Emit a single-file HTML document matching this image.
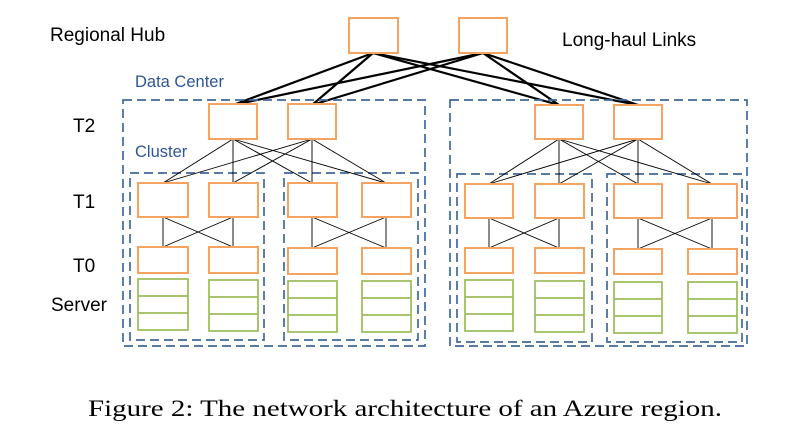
<!DOCTYPE html>
<html><head><meta charset="utf-8"><style>
html,body{margin:0;padding:0;background:#fff;}
svg{display:block;}
</style></head><body>
<svg width="810" height="446" viewBox="0 0 810 446" xmlns="http://www.w3.org/2000/svg">
<g font-family="Liberation Sans, sans-serif" font-size="19" fill="#000">
<text x="50" y="41">Regional Hub</text>
<text x="562" y="46">Long-haul Links</text>
<text x="73" y="132">T2</text>
<text x="73" y="208">T1</text>
<text x="73" y="272">T0</text>
<text x="51" y="311">Server</text>
</g>
<g font-family="Liberation Sans, sans-serif" font-size="16.5" fill="#2f5597">
<text x="135" y="87">Data Center</text>
<text x="135" y="157">Cluster</text>
</g>
<g stroke="#000" stroke-width="2.2">
<line x1="373" y1="53" x2="233" y2="105"/><line x1="373" y1="53" x2="312" y2="105"/>
<line x1="373" y1="53" x2="559" y2="105"/><line x1="373" y1="53" x2="638" y2="105"/>
<line x1="483" y1="53" x2="233" y2="105"/><line x1="483" y1="53" x2="312" y2="105"/>
<line x1="483" y1="53" x2="559" y2="105"/><line x1="483" y1="53" x2="638" y2="105"/>
</g>
<g fill="none" stroke="#41689a" stroke-width="1.7" stroke-dasharray="9,5">
<rect x="123" y="100" width="302" height="246"/>
<rect x="450" y="100" width="297" height="246"/>
<rect x="130" y="173" width="134" height="167"/>
<rect x="284" y="173" width="134" height="167"/>
<rect x="457" y="174" width="135" height="168"/>
<rect x="607" y="174" width="135" height="168"/>
</g>
<g stroke="#000" stroke-width="0.9">
<line x1="233" y1="139" x2="163" y2="183"/><line x1="233" y1="139" x2="233" y2="183"/><line x1="233" y1="139" x2="312" y2="183"/><line x1="233" y1="139" x2="386" y2="183"/>
<line x1="312" y1="139" x2="163" y2="183"/><line x1="312" y1="139" x2="233" y2="183"/><line x1="312" y1="139" x2="312" y2="183"/><line x1="312" y1="139" x2="386" y2="183"/>
<line x1="559" y1="139" x2="489" y2="184"/><line x1="559" y1="139" x2="559" y2="184"/><line x1="559" y1="139" x2="638" y2="184"/><line x1="559" y1="139" x2="712" y2="184"/>
<line x1="638" y1="139" x2="489" y2="184"/><line x1="638" y1="139" x2="559" y2="184"/><line x1="638" y1="139" x2="638" y2="184"/><line x1="638" y1="139" x2="712" y2="184"/>
<line x1="163" y1="217" x2="163" y2="247"/><line x1="233" y1="217" x2="233" y2="247"/><line x1="163" y1="217" x2="233" y2="247"/><line x1="233" y1="217" x2="163" y2="247"/>
<line x1="312" y1="217" x2="312" y2="248"/><line x1="386" y1="217" x2="386" y2="248"/><line x1="312" y1="217" x2="386" y2="248"/><line x1="386" y1="217" x2="312" y2="248"/>
<line x1="489" y1="218" x2="489" y2="248"/><line x1="559" y1="218" x2="559" y2="248"/><line x1="489" y1="218" x2="559" y2="248"/><line x1="559" y1="218" x2="489" y2="248"/>
<line x1="638" y1="218" x2="638" y2="249"/><line x1="712" y1="218" x2="712" y2="249"/><line x1="638" y1="218" x2="712" y2="249"/><line x1="712" y1="218" x2="638" y2="249"/>
</g>
<g fill="#fff" stroke="#f4a460" stroke-width="2">
<rect x="349" y="18" width="49" height="35"/><rect x="459" y="18" width="48" height="35"/>
<rect x="209" y="104" width="48" height="35"/><rect x="288" y="104" width="48" height="35"/>
<rect x="535" y="105" width="48" height="34"/><rect x="614" y="105" width="48" height="34"/>
<rect x="138" y="183" width="50" height="34"/><rect x="209" y="183" width="49" height="34"/>
<rect x="288" y="183" width="49" height="34"/><rect x="362" y="183" width="49" height="34"/>
<rect x="465" y="184" width="48" height="34"/><rect x="535" y="184" width="49" height="34"/>
<rect x="614" y="184" width="48" height="34"/><rect x="688" y="184" width="49" height="34"/>
<rect x="138" y="247" width="50" height="26"/><rect x="209" y="247" width="49" height="26"/>
<rect x="288" y="248" width="49" height="26"/><rect x="362" y="248" width="49" height="26"/>
<rect x="465" y="248" width="48" height="25"/><rect x="535" y="248" width="49" height="25"/>
<rect x="614" y="249" width="48" height="25"/><rect x="688" y="249" width="49" height="25"/>
</g>
<g fill="none" stroke="#9bbb59" stroke-width="1.7">
<rect x="138" y="279" width="50" height="51"/><line x1="138" y1="296" x2="188" y2="296"/><line x1="138" y1="313" x2="188" y2="313"/>
<rect x="209" y="280" width="49" height="51"/><line x1="209" y1="297" x2="258" y2="297"/><line x1="209" y1="314" x2="258" y2="314"/>
<rect x="288" y="281" width="49" height="51"/><line x1="288" y1="298" x2="337" y2="298"/><line x1="288" y1="315" x2="337" y2="315"/>
<rect x="362" y="281" width="49" height="51"/><line x1="362" y1="298" x2="411" y2="298"/><line x1="362" y1="315" x2="411" y2="315"/>
<rect x="465" y="280" width="48" height="51"/><line x1="465" y1="297" x2="513" y2="297"/><line x1="465" y1="314" x2="513" y2="314"/>
<rect x="535" y="281" width="49" height="51"/><line x1="535" y1="298" x2="584" y2="298"/><line x1="535" y1="315" x2="584" y2="315"/>
<rect x="614" y="282" width="48" height="51"/><line x1="614" y1="299" x2="662" y2="299"/><line x1="614" y1="316" x2="662" y2="316"/>
<rect x="688" y="282" width="49" height="51"/><line x1="688" y1="299" x2="737" y2="299"/><line x1="688" y1="316" x2="737" y2="316"/>
</g>
<text x="88" y="416" font-family="Liberation Serif, serif" font-size="23" textLength="634" lengthAdjust="spacingAndGlyphs">Figure 2: The network architecture of an Azure region.</text>
</svg>
</body></html>
